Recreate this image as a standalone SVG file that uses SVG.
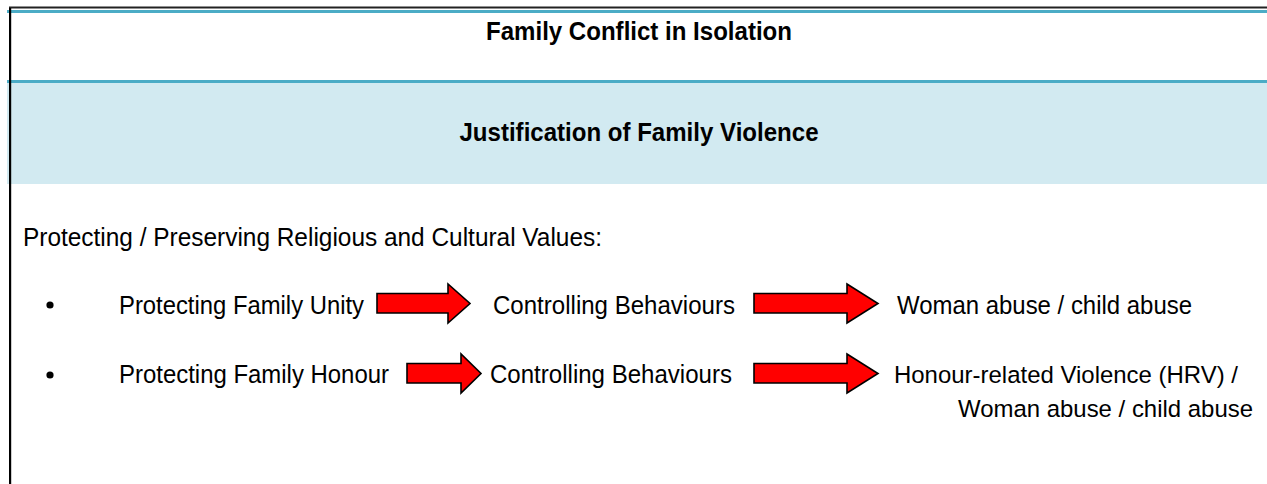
<svg xmlns="http://www.w3.org/2000/svg" width="1267" height="484" viewBox="0 0 1267 484">
<style>
.t{font-family:"Liberation Sans",Arial,sans-serif;font-size:26px;fill:#000}
.s{font-size:24.5px}
.b{font-weight:bold}
.arr{fill:#ff0000;stroke:#000;stroke-width:1.6;stroke-linejoin:miter}
.teal{fill:#4BACC6}
</style>
<rect x="0" y="0" width="1267" height="484" fill="#fff"/>
<g id="frame">
<rect x="9" y="6.5" width="1258" height="2" fill="#222"/>
<rect class="teal" x="7" y="10" width="1260" height="3"/>
<rect class="teal" x="7" y="80" width="1260" height="3"/>
<rect x="7" y="83" width="1260" height="101" fill="#D2EAF1"/>
<rect x="9" y="8" width="2.2" height="476" fill="#000"/>
</g>
<g id="title"><text class="t b" x="639" y="39.5" text-anchor="middle" textLength="306" lengthAdjust="spacingAndGlyphs">Family Conflict in Isolation</text></g>
<g id="subtitle"><text class="t b" x="639" y="141" text-anchor="middle" textLength="359" lengthAdjust="spacingAndGlyphs">Justification of Family Violence</text></g>
<g id="heading"><text class="t" x="23" y="246" textLength="579" lengthAdjust="spacingAndGlyphs">Protecting / Preserving Religious and Cultural Values:</text></g>
<g id="row1">
<circle cx="50" cy="305" r="3.6" fill="#000"/>
<g id="n1a"><text class="t" x="119" y="314" textLength="245" lengthAdjust="spacingAndGlyphs">Protecting Family Unity</text></g>
<g id="n1b"><text class="t" x="493" y="314" textLength="242" lengthAdjust="spacingAndGlyphs">Controlling Behaviours</text></g>
<g id="n1c"><text class="t" x="897" y="314" textLength="295" lengthAdjust="spacingAndGlyphs">Woman abuse / child abuse</text></g>
</g>
<g id="row2">
<circle cx="50" cy="375" r="3.6" fill="#000"/>
<g id="n2a"><text class="t" x="119" y="383" textLength="270" lengthAdjust="spacingAndGlyphs">Protecting Family Honour</text></g>
<g id="n2b"><text class="t" x="490" y="383" textLength="242" lengthAdjust="spacingAndGlyphs">Controlling Behaviours</text></g>
<g id="n2c">
<text class="t s" x="894" y="383" textLength="344" lengthAdjust="spacingAndGlyphs">Honour-related Violence (HRV) /</text>
<text class="t s" x="958" y="417" textLength="295" lengthAdjust="spacingAndGlyphs">Woman abuse / child abuse</text>
</g>
</g>
<g id="connectors">
<polygon class="arr" points="377,293.5 448,293.5 448,284 470,303.5 448,323 448,313 377,313"/>
<polygon class="arr" points="754,293.5 847,293.5 847,284 878,303.5 847,323 847,313 754,313"/>
<polygon class="arr" points="407,363.5 461,363.5 461,354 481,373.5 461,393 461,383 407,383"/>
<polygon class="arr" points="754,363.5 847,363.5 847,354 878,373.5 847,393 847,383 754,383"/>
</g>
</svg>
